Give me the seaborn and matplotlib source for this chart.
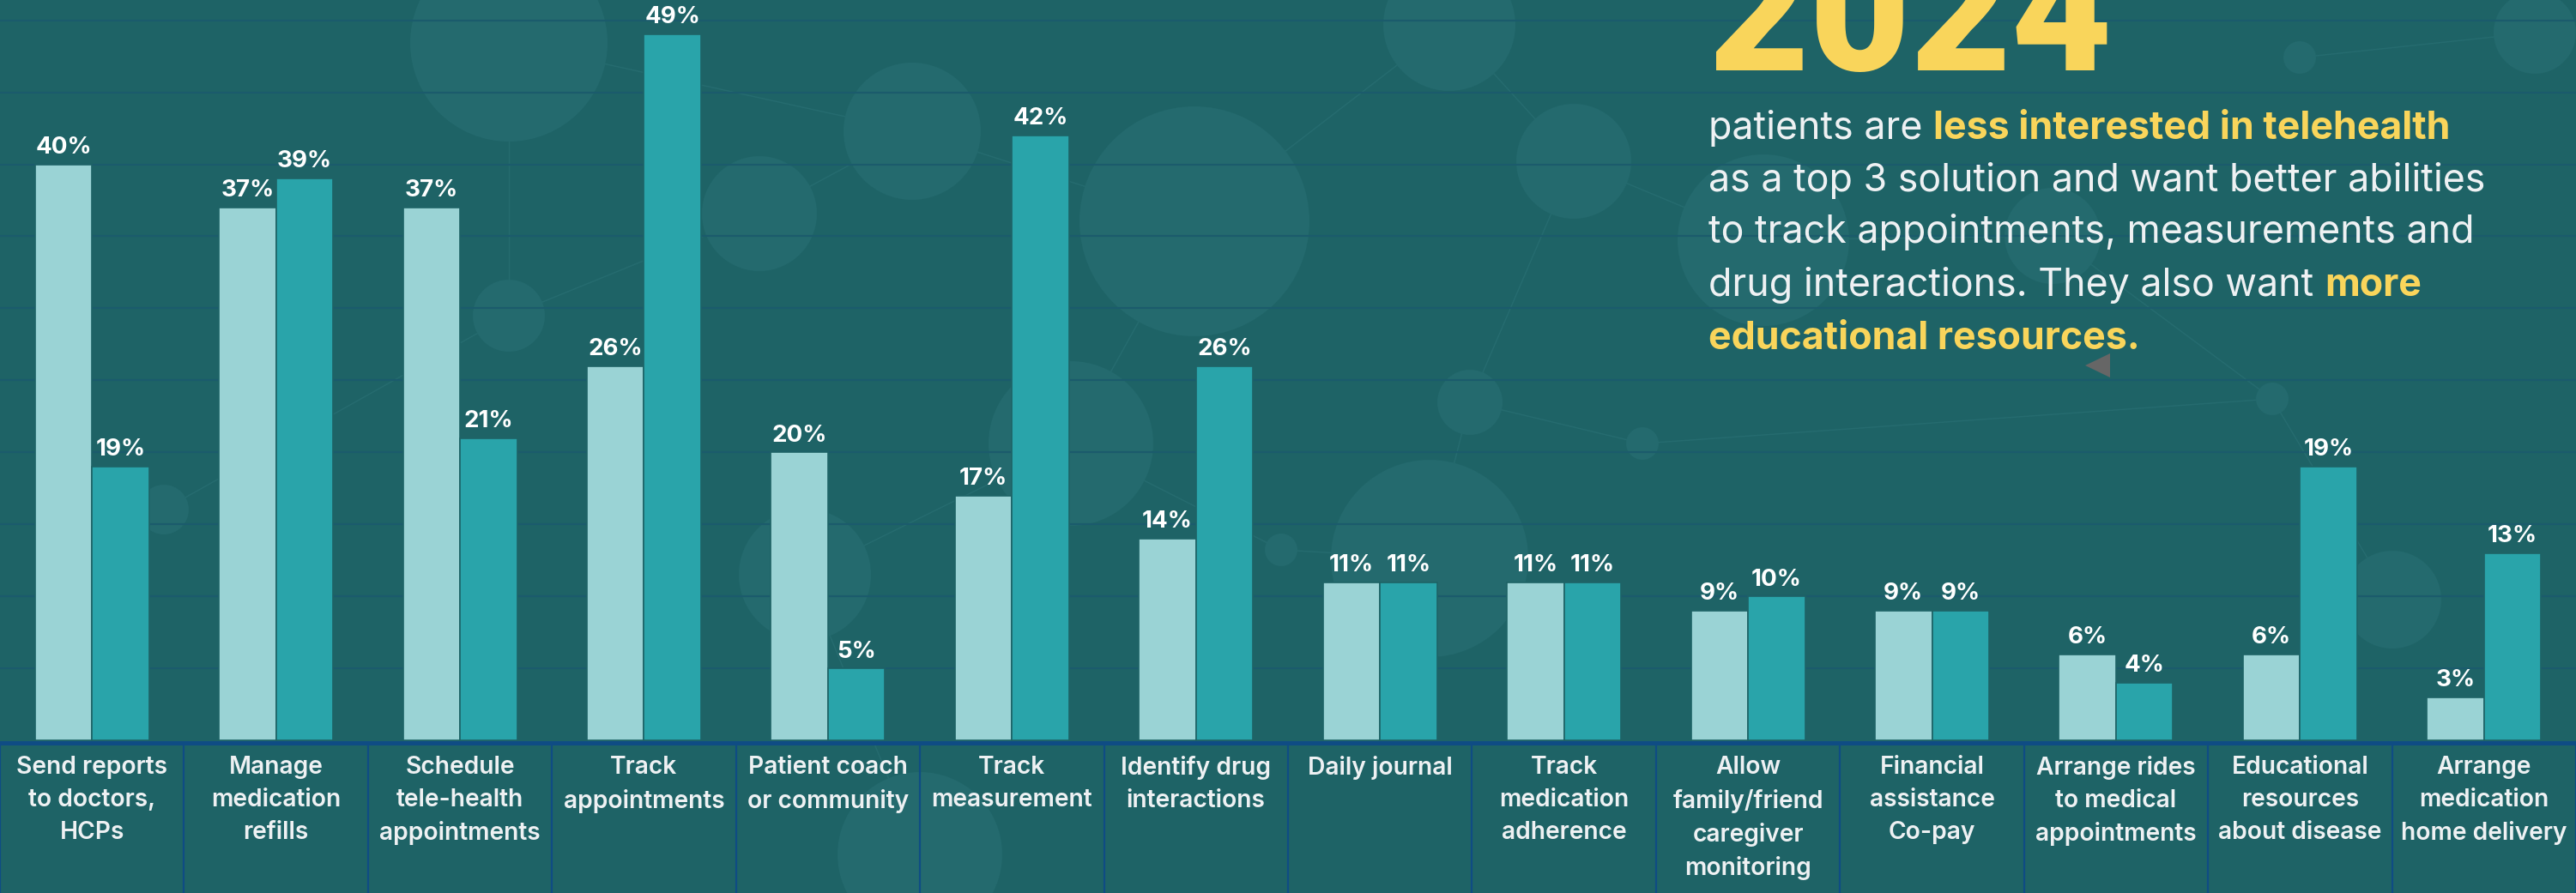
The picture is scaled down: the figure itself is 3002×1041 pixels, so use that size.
import numpy as np
import pandas as pd
import matplotlib
matplotlib.use("Agg")
import matplotlib.pyplot as plt
from matplotlib.patches import Circle, Polygon
from matplotlib.lines import Line2D
import seaborn as sns

# ---------------------------
# DATA
# ---------------------------
features = [
    "Send reports\nto doctors,\nHCPs",
    "Manage\nmedication\nrefills",
    "Schedule\ntele-health\nappointments",
    "Track\nappointments",
    "Patient coach\nor community",
    "Track\nmeasurement",
    "Identify drug\ninteractions",
    "Daily journal",
    "Track\nmedication\nadherence",
    "Allow\nfamily/friend\ncaregiver\nmonitoring",
    "Financial\nassistance\nCo-pay",
    "Arrange rides\nto medical\nappointments",
    "Educational\nresources\nabout disease",
    "Arrange\nmedication\nhome delivery",
]
years = ["2023", "2024"]
pct_2023 = [40, 37, 37, 26, 20, 17, 14, 11, 11, 9, 9, 6, 6, 3]
pct_2024 = [19, 39, 21, 49, 5, 42, 26, 11, 11, 10, 9, 4, 19, 13]

# ---------------------------
# STYLE
# ---------------------------
BG = "#1e6366"
LIGHT = "#9ad3d5"
DARK = "#29a4aa"
GRID = "#1b5b6c"
AXIS_BLUE = "#0f4c84"
YELLOW = "#f9d55b"
WHITE = "#eef1f3"
DECO = "#246a6e"

sns.set_theme(style="white")
plt.rcParams["font.family"] = ["Inter", "DejaVu Sans"]

W, H, DPI = 30.02, 10.41, 100
fig = plt.figure(figsize=(W, H), dpi=DPI, facecolor=BG)

# ---------------------------
# BACKGROUND DECORATION (circles + network lines)
# ---------------------------
deco_circles = [
    (593, 50, 115), (1063, 153, 80), (885, 249, 67), (593, 368, 42),
    (1392, 258, 134), (1689, 29, 77), (1834, 188, 67), (1713, 469, 38),
    (1666, 651, 115), (1248, 517, 96), (2954, 38, 48), (2680, 67, 19),
    (2788, 699, 57), (2648, 465, 19), (1914, 517, 19), (191, 594, 29),
    (1493, 641, 19), (1072, 996, 96), (938, 670, 77), (2055, 280, 100),
    (2392, 275, 56),
]
deco_links = [
    (0, 1), (1, 2), (2, 3), (0, 3), (1, 4), (4, 5), (5, 6), (6, 7),
    (7, 8), (4, 9), (9, 18), (18, 17), (8, 16), (7, 14), (14, 13),
    (13, 12), (11, 10), (6, 19), (19, 20), (20, 13), (3, 15), (9, 16),
]
for cx, cy, r in deco_circles:
    fig.patches.append(Circle((cx / DPI, (H * DPI - cy) / DPI), r / DPI,
                              transform=fig.dpi_scale_trans, facecolor=DECO,
                              edgecolor="none", zorder=-2))
for a, b in deco_links:
    xa, ya, _ = deco_circles[a]
    xb, yb, _ = deco_circles[b]
    fig.lines.append(Line2D([xa / DPI, xb / DPI],
                            [(H * DPI - ya) / DPI, (H * DPI - yb) / DPI],
                            transform=fig.dpi_scale_trans, color="#2b7276",
                            lw=1.0, alpha=0.6, zorder=-3))

# ---------------------------
# CHART
# ---------------------------
ax = fig.add_axes([0, 0, 1, 1])
ax.set_facecolor("none")

df = pd.DataFrame({
    "feature": features * 2,
    "year": [years[0]] * len(features) + [years[1]] * len(features),
    "pct": pct_2023 + pct_2024,
})

sns.barplot(data=df, x="feature", y="pct", hue="year", palette=[LIGHT, DARK],
            saturation=1, width=0.62, edgecolor=BG, linewidth=1.2,
            legend=False, ax=ax, zorder=2)

ax.set_xlim(-0.5, len(features) - 0.5)
ax.set_ylim(-10.57, 51.4)

ax.set_yticks(np.arange(5, 55, 5))
ax.grid(axis="y", color=GRID, linewidth=1.6)
ax.grid(axis="x", visible=False)
ax.set_axisbelow(True)
ax.tick_params(left=False, bottom=False, labelleft=False, labelbottom=False)
ax.set_xlabel("")
ax.set_ylabel("")
for s in ax.spines.values():
    s.set_visible(False)

for cont in ax.containers:
    ax.bar_label(cont, fmt="%g%%", padding=5, color="white",
                 fontsize=20, fontweight="bold")

# baseline + category cells
ax.axhline(-0.14, color=AXIS_BLUE, linewidth=3.6, zorder=3)
ax.vlines(np.arange(-0.5, len(features)), -10.57, -0.14,
          color=AXIS_BLUE, linewidth=1.6, zorder=3)
for i, lab in enumerate(features):
    ax.text(i, -1.05, lab, ha="center", va="top", color=WHITE,
            fontsize=20.3, fontweight="semibold", linespacing=1.52)

# ---------------------------
# RIGHT SIDE CALLOUT
# ---------------------------
left = 1991 / (W * DPI)
fig.text(left, 1 - 82 / (H * DPI), "2024", color=YELLOW, fontsize=146,
         fontweight="black", family=["Roboto", "DejaVu Sans"],
         ha="left", va="baseline")

para = [
    [("patients are ", False), ("less interested in telehealth", True)],
    [("as a top 3 solution and want better abilities", False)],
    [("to track appointments, measurements and", False)],
    [("drug interactions. They also want ", False), ("more", True)],
    [("educational resources.", True)],
]
baselines = [162, 223, 283, 345, 407]
renderer = fig.canvas.get_renderer()
for line, by in zip(para, baselines):
    x = left
    for txt, hl in line:
        t = fig.text(x, 1 - by / (H * DPI), txt, fontsize=32.2,
                     color=YELLOW if hl else WHITE,
                     fontweight="bold" if hl else "normal",
                     ha="left", va="baseline")
        x += t.get_window_extent(renderer).width / (W * DPI)

tri = np.array([[2430, 426], [2459, 412], [2459, 440]], dtype=float)
tri[:, 0] /= W * DPI
tri[:, 1] = 1 - tri[:, 1] / (H * DPI)
fig.patches.append(Polygon(tri, closed=True, transform=fig.transFigure,
                           facecolor="#666666", edgecolor="none", zorder=4))

fig.savefig("out.png", dpi=DPI, facecolor=BG)
